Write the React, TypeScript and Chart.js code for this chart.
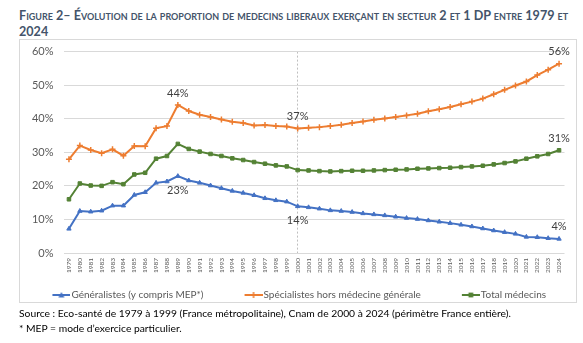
import React, { useEffect, useRef } from "react";
import { Chart, registerables } from "chart.js";

Chart.register(...registerables);

const years = [
  "1979", "1980", "1981", "1982", "1983", "1984", "1985", "1986", "1987", "1988",
  "1989", "1990", "1991", "1992", "1993", "1994", "1995", "1996", "1997", "1998",
  "1999", "2000", "2001", "2002", "2003", "2004", "2005", "2006", "2007", "2008",
  "2009", "2010", "2011", "2012", "2013", "2014", "2015", "2016", "2017", "2018",
  "2019", "2020", "2021", "2022", "2023", "2024",
];

const generalistes = [
  7.2, 12.5, 12.3, 12.6, 14.1, 14.1, 17.3, 18.1, 20.9, 21.3,
  22.9, 21.6, 20.9, 20.1, 19.3, 18.5, 17.9, 17.2, 16.3, 15.7,
  15.3, 13.9, 13.6, 13.2, 12.7, 12.5, 12.2, 11.8, 11.5, 11.2,
  10.8, 10.4, 10.1, 9.7, 9.3, 8.9, 8.4, 7.9, 7.3, 6.7,
  6.2, 5.7, 4.8, 4.7, 4.4, 4.2,
];

const specialistes = [
  27.9, 32.0, 30.7, 29.7, 30.9, 29.0, 31.9, 31.8, 37.2, 37.8,
  44.1, 42.3, 41.2, 40.5, 39.8, 39.1, 38.7, 38.0, 38.1, 37.8,
  37.7, 37.1, 37.3, 37.5, 37.8, 38.2, 38.7, 39.2, 39.7, 40.1,
  40.5, 41.0, 41.5, 42.2, 42.8, 43.5, 44.3, 45.1, 46.0, 47.3,
  48.6, 49.9, 51.1, 53.0, 54.6, 56.4,
];

const totalMedecins = [
  16.0, 20.7, 20.1, 20.0, 21.1, 20.5, 23.4, 23.9, 28.1, 28.9,
  32.5, 31.0, 30.2, 29.5, 28.9, 28.2, 27.7, 27.1, 26.6, 26.1,
  25.8, 24.7, 24.6, 24.4, 24.3, 24.4, 24.5, 24.5, 24.6, 24.7,
  24.8, 24.9, 25.1, 25.2, 25.3, 25.4, 25.6, 25.8, 26.0, 26.4,
  26.8, 27.3, 28.1, 28.8, 29.5, 30.6,
];

const seriesNames = [
  "Généralistes (y compris MEP*)",
  "Spécialistes hors médecine générale",
  "Total médecins",
];

const yMin = 0;
const yMax = 60;
const yStep = 10;

const dividerYear = "2000";

const valueLabels = [
  { series: 1, year: "1989", text: "44%", place: "above" },
  { series: 0, year: "1989", text: "23%", place: "below" },
  { series: 1, year: "2000", text: "37%", place: "above" },
  { series: 0, year: "2000", text: "14%", place: "below" },
  { series: 1, year: "2024", text: "56%", place: "above" },
  { series: 2, year: "2024", text: "31%", place: "above" },
  { series: 0, year: "2024", text: "4%", place: "above" },
];

const COLORS = ["#4472C4", "#ED7D31", "#548235"];
const MARKERS = ["triangle", "cross", "rect"];
const FONT = "Lato, 'Open Sans', sans-serif";
const LEGEND_BOX = 48;

function drawMarker(ctx: CanvasRenderingContext2D, style: string, x: number, y: number, r: number, color: string) {
  ctx.fillStyle = color;
  ctx.strokeStyle = color;
  ctx.lineWidth = 1.5;
  ctx.beginPath();
  if (style === "triangle") {
    ctx.moveTo(x, y - r);
    ctx.lineTo(x + r, y + r * 0.8);
    ctx.lineTo(x - r, y + r * 0.8);
    ctx.closePath();
    ctx.fill();
  } else if (style === "rect") {
    ctx.rect(x - r * 0.8, y - r * 0.8, r * 1.6, r * 1.6);
    ctx.fill();
  } else {
    ctx.moveTo(x - r, y);
    ctx.lineTo(x + r, y);
    ctx.moveTo(x, y - r);
    ctx.lineTo(x, y + r);
    ctx.stroke();
  }
}

function makeLegendIcon(color: string, style: string) {
  const c = document.createElement("canvas");
  c.width = LEGEND_BOX + 8;
  c.height = 8;
  const ctx = c.getContext("2d")!;
  const x1 = c.width;
  const x0 = x1 - 18;
  ctx.strokeStyle = color;
  ctx.lineWidth = 2;
  ctx.beginPath();
  ctx.moveTo(x0, 4);
  ctx.lineTo(x1, 4);
  ctx.stroke();
  drawMarker(ctx, style, (x0 + x1) / 2, 4, 3, color);
  return c;
}

const valueLabelPlugin = {
  id: "valueLabels",
  afterDatasetsDraw(chart: any) {
    const ctx = chart.ctx as CanvasRenderingContext2D;
    ctx.save();
    ctx.font = `11px ${FONT}`;
    ctx.fillStyle = "#404040";
    ctx.textAlign = "center";
    ctx.textBaseline = "middle";
    valueLabels.forEach((l) => {
      const meta = chart.getDatasetMeta(l.series);
      const idx = years.indexOf(l.year);
      const pt = meta.data[idx];
      if (!pt) return;
      const dy = l.place === "above" ? -12 : 14;
      ctx.fillText(l.text, pt.x, pt.y + dy);
    });
    ctx.restore();
  },
};

export default function App() {
  const canvasRef = useRef<HTMLCanvasElement | null>(null);

  useEffect(() => {
    if (!canvasRef.current) return;
    const seriesData = [generalistes, specialistes, totalMedecins];
    const icons = COLORS.map((c, i) => makeLegendIcon(c, MARKERS[i]));
    const dividerIndex = years.indexOf(dividerYear);

    const chart = new Chart(canvasRef.current, {
      type: "line",
      data: {
        labels: years,
        datasets: seriesData.map((d, i) => ({
          label: seriesNames[i],
          data: d,
          borderColor: COLORS[i],
          backgroundColor: COLORS[i],
          borderWidth: 2,
          pointStyle: MARKERS[i] as any,
          pointRadius: i === 1 ? 3 : 2.5,
          pointBorderWidth: i === 1 ? 1.5 : 1,
          pointBorderColor: COLORS[i],
          pointBackgroundColor: COLORS[i],
          tension: 0,
        })),
      },
      options: {
        animation: false,
        responsive: false,
        maintainAspectRatio: false,
        layout: { padding: { left: 0, right: 12.5, top: 0, bottom: 0 } },
        scales: {
          x: {
            offset: true,
            grid: {
              offset: false,
              drawTicks: false,
              lineWidth: 1,
              color: (ctx: any) => (ctx.index === dividerIndex ? "#bfbfbf" : "rgba(0,0,0,0)"),
            },
            border: { display: false, dash: [2, 2] },
            ticks: {
              autoSkip: false,
              maxRotation: 90,
              minRotation: 90,
              padding: 5,
              color: "#595959",
              font: { size: 6.5, family: FONT },
            },
            afterFit: (s: any) => {
              s.height = 30;
            },
          },
          y: {
            min: yMin,
            max: yMax,
            grid: { color: "#d9d9d9", lineWidth: 1, drawTicks: false },
            border: { display: false },
            ticks: {
              stepSize: yStep,
              padding: 10,
              color: "#595959",
              font: { size: 11, family: FONT },
              callback: (v: any) => `${v}%`,
            },
            afterFit: (s: any) => {
              s.width = 63.5;
            },
          },
        },
        plugins: {
          legend: {
            position: "bottom",
            labels: {
              usePointStyle: true,
              pointStyleWidth: LEGEND_BOX,
              padding: 7,
              color: "#595959",
              font: { size: 10, family: FONT },
              generateLabels: (ch: any) =>
                ch.data.datasets.map((ds: any, i: number) => ({
                  text: ds.label,
                  fillStyle: COLORS[i],
                  strokeStyle: COLORS[i],
                  lineWidth: 0,
                  pointStyle: icons[i],
                  hidden: false,
                  datasetIndex: i,
                  fontColor: "#595959",
                })),
            },
          },
          tooltip: { enabled: false },
        },
      },
      plugins: [valueLabelPlugin],
    });
    return () => chart.destroy();
  }, []);

  return (
    <div style={{ position: "absolute", left: 0, top: 0, width: 583, height: 343, background: "#fff", overflow: "hidden", fontFamily: FONT }}>
      <div
        style={{
          position: "absolute",
          left: 19,
          top: 8,
          whiteSpace: "nowrap",
          fontWeight: 700,
          fontVariant: "small-caps",
          fontSize: 12.6,
          lineHeight: "16px",
          color: "#44546A",
        }}
      >
        <div>Figure 2– Évolution de la proportion de medecins liberaux exerçant en secteur 2 et 1 DP entre 1979 et</div>
        <div>2024</div>
      </div>
      <div
        style={{
          position: "absolute",
          left: 19,
          top: 39,
          width: 556,
          height: 262,
          border: "1px solid #d9d9d9",
        }}
      />
      <canvas
        ref={canvasRef}
        width={577}
        height={275}
        style={{ position: "absolute", left: 0, top: 35, width: 577, height: 275 }}
      />
      <div
        style={{
          position: "absolute",
          left: 19,
          top: 306,
          fontSize: 10.3,
          lineHeight: "15px",
          color: "#000",
          whiteSpace: "nowrap",
        }}
      >
        <div>Source : Eco-santé de 1979 à 1999 (France métropolitaine), Cnam de 2000 à 2024 (périmètre France entière).</div>
        <div>* MEP = mode d’exercice particulier.</div>
      </div>
    </div>
  );
}
